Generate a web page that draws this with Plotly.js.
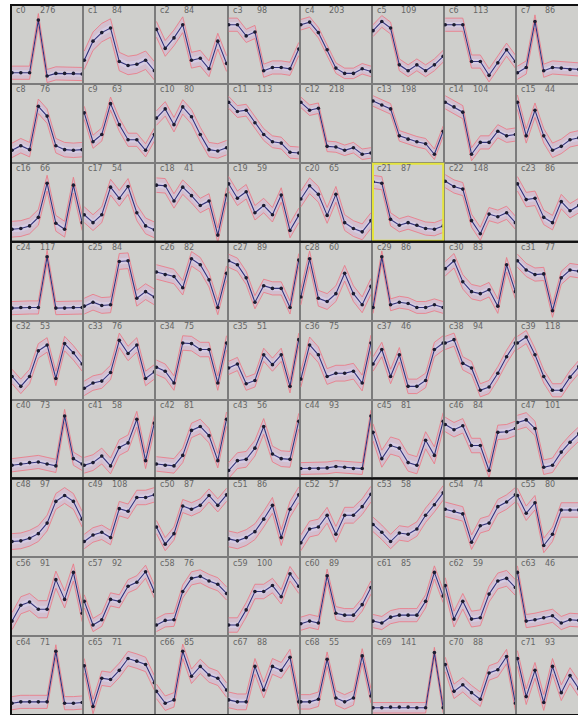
<!DOCTYPE html>
<html>
<head>
<meta charset="utf-8">
<script src="https://cdn.plot.ly/plotly-3.0.1.min.js"></script>
<style>
html,body{margin:0;padding:0;background:#fff;overflow:hidden;width:578px;height:715px;}
#chart{width:592px;height:715px;}
</style>
</head>
<body>
<div id="chart"></div>
<script>
// ---- data ----
const steps = [0,1,2,3,4,5,6,7,8];
const clusterNames = ["c0","c1","c2","c3","c4","c5","c6","c7","c8","c9","c10","c11","c12","c13","c14","c15",
"c16","c17","c18","c19","c20","c21","c22","c23","c24","c25","c26","c27","c28","c29","c30","c31",
"c32","c33","c34","c35","c36","c37","c38","c39","c40","c41","c42","c43","c44","c45","c46","c47",
"c48","c49","c50","c51","c52","c53","c54","c55","c56","c57","c58","c59","c60","c61","c62","c63",
"c64","c65","c66","c67","c68","c69","c70","c71"];
const clusterCounts = [276,84,84,98,203,109,113,86, 76,63,80,113,218,198,104,44,
66,54,41,59,65,87,148,86, 117,84,82,89,60,86,83,77,
53,76,75,51,75,46,94,118, 73,58,81,56,93,81,84,101,
97,108,87,86,57,58,74,80, 91,92,76,100,89,85,59,46,
71,71,85,88,55,141,88,93];

const meansRow0 = [
 [7,7,7,87,2,6,6,6,5],
 [26,55,68,75,24,18,20,26,10],
 [73,44,60,80,26,29,13,55,21],
 [80,80,63,69,10,15,15,13,43],
 [80,84,68,42,14,6,6,13,9],
 [71,85,75,19,10,19,10,19,32],
 [80,80,80,24,24,3,22,42,24],
 [7,15,85,10,15,14,12,12,14]];
const meansRow1 = [
 [9,16,10,76,61,16,10,9,10],
 [66,22,33,80,48,25,25,9,33],
 [58,72,48,75,60,33,10,8,13],
 [82,68,70,51,33,22,20,6,5],
 [82,70,73,15,14,9,13,3,5],
 [84,78,72,31,26,22,19,3,38],
 [82,75,67,3,21,21,38,31,33],
 [82,31,70,31,9,15,25,28,24]];
const meansRow2 = [
 [9,10,14,27,79,18,9,76,19],
 [31,19,31,73,56,74,34,14,8],
 [76,75,52,73,60,45,52,0,61],
 [78,56,66,34,45,31,61,7,30],
 [55,75,62,30,62,19,10,5,22],
 [81,79,24,15,19,15,10,9,14],
 [82,74,70,22,2,32,28,34,19],
 [78,54,56,27,19,51,37,45,40]];
const meansRow3 = [
 [9,10,10,10,87,9,9,10,10],
 [12,18,13,14,80,81,24,34,26],
 [64,60,57,40,84,75,52,10,62],
 [81,75,55,18,43,39,39,10,82],
 [26,84,24,19,31,62,31,14,42],
 [10,87,14,18,16,10,10,14,10],
 [69,81,49,34,31,37,12,75,34],
 [81,67,60,61,5,55,67,65,60]];
const meansRow4 = [
 [25,10,25,64,73,22,75,61,44],
 [7,15,18,31,80,60,73,22,32],
 [39,33,15,76,75,66,66,15,76],
 [38,44,14,19,58,43,58,10,81],
 [21,73,58,25,30,30,33,15,76],
 [44,66,25,58,10,10,19,66,76],
 [76,81,45,38,4,9,30,55,76],
 [76,85,58,25,4,4,24,40,55]];
const meansRow5 = [
 [10,12,14,15,12,9,85,20,12],
 [10,14,24,9,37,44,80,17,74],
 [12,10,9,25,63,69,55,17,80],
 [2,17,19,36,69,27,20,19,77],
 [5,5,5,6,8,7,5,5,85],
 [60,20,40,36,14,10,48,25,77],
 [72,64,70,40,40,2,60,61,66],
 [75,79,66,7,10,30,45,58,70]];
const meansRow6 = [
 [14,15,19,26,42,75,84,75,48],
 [14,24,28,20,64,60,81,81,85],
 [36,10,26,68,63,69,84,69,85],
 [18,15,20,29,48,69,20,63,85],
 [12,33,36,54,25,54,54,67,86],
 [40,28,14,27,25,33,54,70,88],
 [63,60,56,13,38,42,67,74,85],
 [84,57,73,8,25,62,62,62,62]];
const meansRow7 = [
 [13,37,42,31,31,76,46,87,25],
 [43,7,15,46,43,66,72,88,58],
 [7,14,15,58,78,81,74,69,55],
 [7,7,30,58,58,67,50,85,66],
 [9,13,10,82,25,22,22,38,64],
 [13,10,19,22,22,22,43,87,51],
 [67,16,43,16,18,54,74,78,64],
 [87,13,15,18,21,10,15,14,14]];
const meansRow8 = [
 [8,10,10,10,10,87,8,8,9],
 [65,3,46,44,58,76,72,67,39],
 [26,8,13,87,49,64,51,46,28],
 [13,10,10,64,28,64,58,78,10],
 [10,10,14,75,16,10,16,80,19],
 [1,1,2,2,2,1,1,85,1],
 [67,26,36,24,14,54,59,79,8],
 [76,18,58,9,64,24,50,30,40]];
const spreads = [10,14,12,10,8,9,10,10, 11,10,11,9,8,8,10,11,
12,12,11,11,12,10,10,11, 10,12,11,10,12,9,11,10,
11,11,11,10,12,11,10,10, 10,12,11,12,9,13,11,11,
12,11,10,12,12,11,11,11, 13,10,10,11,10,10,12,10,
10,11,11,12,11,8,11,12];
const highlighted = "c21";

// ---- layout ----
const W = 592, H = 715;
const gridLeft = 11, gridTop = 5, colW = 72.2, rowH = 78.9;
const allMeans = [].concat(meansRow0,meansRow1,meansRow2,meansRow3,meansRow4,meansRow5,meansRow6,meansRow7,meansRow8);

const traces = [];
const layout = {
  width: W, height: H,
  margin: {l:0,r:0,t:0,b:0},
  paper_bgcolor: '#ffffff',
  plot_bgcolor: '#cfcfcc',
  showlegend: false,
  annotations: [],
  shapes: []
};

allMeans.forEach((m, i) => {
  const r = Math.floor(i/8), c = i % 8;
  const sfx = i === 0 ? '' : String(i+1);
  const xa = 'x'+sfx, ya = 'y'+sfx;
  const px0 = gridLeft + c*colW, px1 = px0 + colW;
  const py0 = gridTop + r*rowH, py1 = py0 + rowH;
  layout['xaxis'+sfx] = {
    domain: [px0/W, Math.min(1, px1/W)], anchor: ya, range: [-0.12, 8.12],
    showgrid:false, zeroline:false, showticklabels:false, ticks:'',
    showline:true, mirror:true, linecolor:'#7c7c7c', linewidth:1, fixedrange:true
  };
  layout['yaxis'+sfx] = {
    domain: [Math.max(0, 1 - py1/H), 1 - py0/H], anchor: xa, range: [-10, 110],
    showgrid:false, zeroline:false, showticklabels:false, ticks:'',
    showline:true, mirror:true, linecolor:'#7c7c7c', linewidth:1, fixedrange:true
  };
  const s = spreads[i];
  const lo = m.map(v => v - s), hi = m.map(v => v + s);
  const ilo = m.map(v => v - s*0.4), ihi = m.map(v => v + s*0.4);
  traces.push({x:steps, y:lo, xaxis:xa, yaxis:ya, mode:'lines', line:{color:'rgba(236,118,130,0.8)', width:1}, hoverinfo:'skip'});
  traces.push({x:steps, y:hi, xaxis:xa, yaxis:ya, mode:'lines', fill:'tonexty', fillcolor:'rgba(222,160,210,0.32)', line:{color:'rgba(236,118,130,0.8)', width:1}, hoverinfo:'skip'});
  traces.push({x:steps, y:ilo, xaxis:xa, yaxis:ya, mode:'lines', line:{width:0, color:'rgba(0,0,0,0)'}, hoverinfo:'skip'});
  traces.push({x:steps, y:ihi, xaxis:xa, yaxis:ya, mode:'lines', fill:'tonexty', fillcolor:'rgba(215,215,245,0.5)', line:{width:0, color:'rgba(0,0,0,0)'}, hoverinfo:'skip'});
  traces.push({x:steps, y:m, xaxis:xa, yaxis:ya, mode:'lines+markers', line:{color:'#34347a', width:1.1}, marker:{color:'#1c1c30', size:3.6}, cliponaxis:true});

  layout.annotations.push({xref:'paper', yref:'paper', x:(px0+3)/W, y:1-(py0+6)/H, xanchor:'left', yanchor:'middle', showarrow:false,
    text: clusterNames[i], font:{family:'DejaVu Sans', size:8, color:'#666666'}});
  layout.annotations.push({xref:'paper', yref:'paper', x:(px0+27)/W, y:1-(py0+6)/H, xanchor:'left', yanchor:'middle', showarrow:false,
    text: String(clusterCounts[i]), font:{family:'DejaVu Sans', size:8, color:'#666666'}});

  if (clusterNames[i] === highlighted) {
    layout.shapes.push({type:'rect', xref:'paper', yref:'paper', x0:(px0+1)/W, x1:(px1-1)/W, y0:1-(py1-1)/H, y1:1-(py0+1)/H,
      line:{color:'#e4e43c', width:2}, fillcolor:'rgba(0,0,0,0)'});
  }
});

// thick borders around each block of three rows
for (let g = 0; g < 3; g++) {
  const py0 = gridTop + g*3*rowH, py1 = gridTop + (g+1)*3*rowH;
  layout.shapes.push({type:'rect', xref:'paper', yref:'paper', x0:gridLeft/W, x1:(gridLeft+8*colW)/W,
    y0:1-py1/H, y1:1-py0/H, line:{color:'#111111', width:2}, fillcolor:'rgba(0,0,0,0)'});
}

Plotly.newPlot('chart', traces, layout, {displayModeBar:false, staticPlot:true});
</script>
</body>
</html>
